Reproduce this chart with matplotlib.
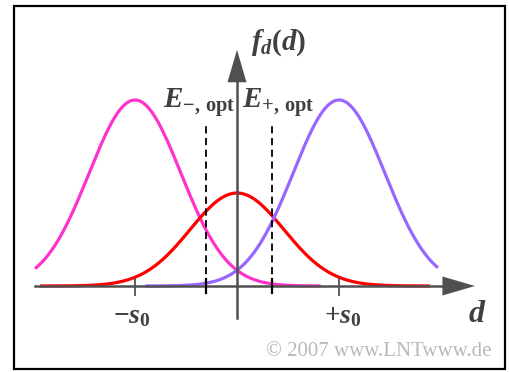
import matplotlib.pyplot as plt
import numpy as np

# Gaussian components (s0 = 1)
names = ['minus', 'zero', 'plus']
centers = [-1.0, 0.0, 1.0]
heights = [1.0, 0.5, 1.0]
sigmas = [0.45, 0.46, 0.45]
spans = [(-1.98, 0.82), (-1.93, 1.89), (-0.90, 1.97)]
colors = ['#ff33cc', '#ff0000', '#9966ff']

# optimal thresholds
thresholds = [-0.30, 0.34]
tick_pos = [-1.0, 1.0]
tick_labels = [r'$-s_0$', r'$+s_0$']

plt.rcParams['mathtext.fontset'] = 'custom'
plt.rcParams['mathtext.it'] = 'Liberation Serif:italic:bold'
plt.rcParams['mathtext.rm'] = 'Liberation Serif:bold'
plt.rcParams['mathtext.bf'] = 'Liberation Serif:bold'

fig = plt.figure(figsize=(5.09, 3.72), dpi=100)
ax = fig.add_axes([0, 0, 1, 1])
ax.set_xlim(-237 / 102, (509 - 237) / 102)
ax.set_ylim(-(372 - 286) / 186, 286 / 186)
ax.axis('off')

axcol = '#505050'
txtcol = '#404040'
arrow = '-|>,head_length=1.3,head_width=0.38'

# frame
fig.patches.append(plt.Rectangle((14 / 509, 3 / 372), 491 / 509, 363 / 372,
                                 transform=fig.transFigure, fill=False,
                                 edgecolor='black', linewidth=1.6))

# axes with arrows
ax.plot([-1.98, 2.15], [0, 0], color=axcol, lw=1.8, zorder=3)
ax.annotate('', xy=(2.36, 0), xytext=(2.1, 0),
            arrowprops=dict(arrowstyle=arrow, color=axcol, lw=0,
                            mutation_scale=18), zorder=4)
ax.plot([0, 0], [-0.17, 1.15], color=axcol, lw=1.8, zorder=3)
ax.annotate('', xy=(0, 1.285), xytext=(0, 1.12),
            arrowprops=dict(arrowstyle=arrow, color=axcol, lw=0,
                            mutation_scale=18), zorder=4)

# curves
for c, h, s, (a, b), col in zip(centers, heights, sigmas, spans, colors):
    x = np.linspace(a, b, 400)
    ax.plot(x, h * np.exp(-(x - c) ** 2 / (2 * s ** 2)), color=col, lw=2.3,
            zorder=2, solid_capstyle='butt')

# thresholds
for t in thresholds:
    ax.plot([t, t], [0, 0.87], color='black', lw=1.3, ls=(0, (4, 2.5)), zorder=3)
    ax.plot([t, t], [-0.035, 0.035], color='black', lw=1.6, zorder=3)

# ticks at +-s0
for c, lab in zip(tick_pos, tick_labels):
    ax.plot([c, c], [-0.05, 0.04], color=axcol, lw=1.3, zorder=3)
    ax.text(c * 1.035, -0.2, lab, fontsize=20, color=txtcol,
            ha='center', va='baseline')

ax.text(0.14, 1.27, r'$f_d(d)$', fontsize=21, color=txtcol,
        ha='left', va='baseline')
ax.text(-0.02, 0.957, r'$E_{-,\,\mathrm{opt}}$', fontsize=21, color=txtcol,
        ha='right', va='baseline')
ax.text(0.05, 0.957, r'$E_{+,\,\mathrm{opt}}$', fontsize=21, color=txtcol,
        ha='left', va='baseline')
ax.text(2.35, -0.194, r'$d$', fontsize=23, color=txtcol,
        ha='center', va='baseline')
ax.text(2.5, -0.376, '\u00a9 2007 www.LNTwww.de', fontsize=15,
        color='#b8b8b8', family='Liberation Serif', ha='right', va='baseline')

fig.savefig('out.png', dpi=100, facecolor='white')
